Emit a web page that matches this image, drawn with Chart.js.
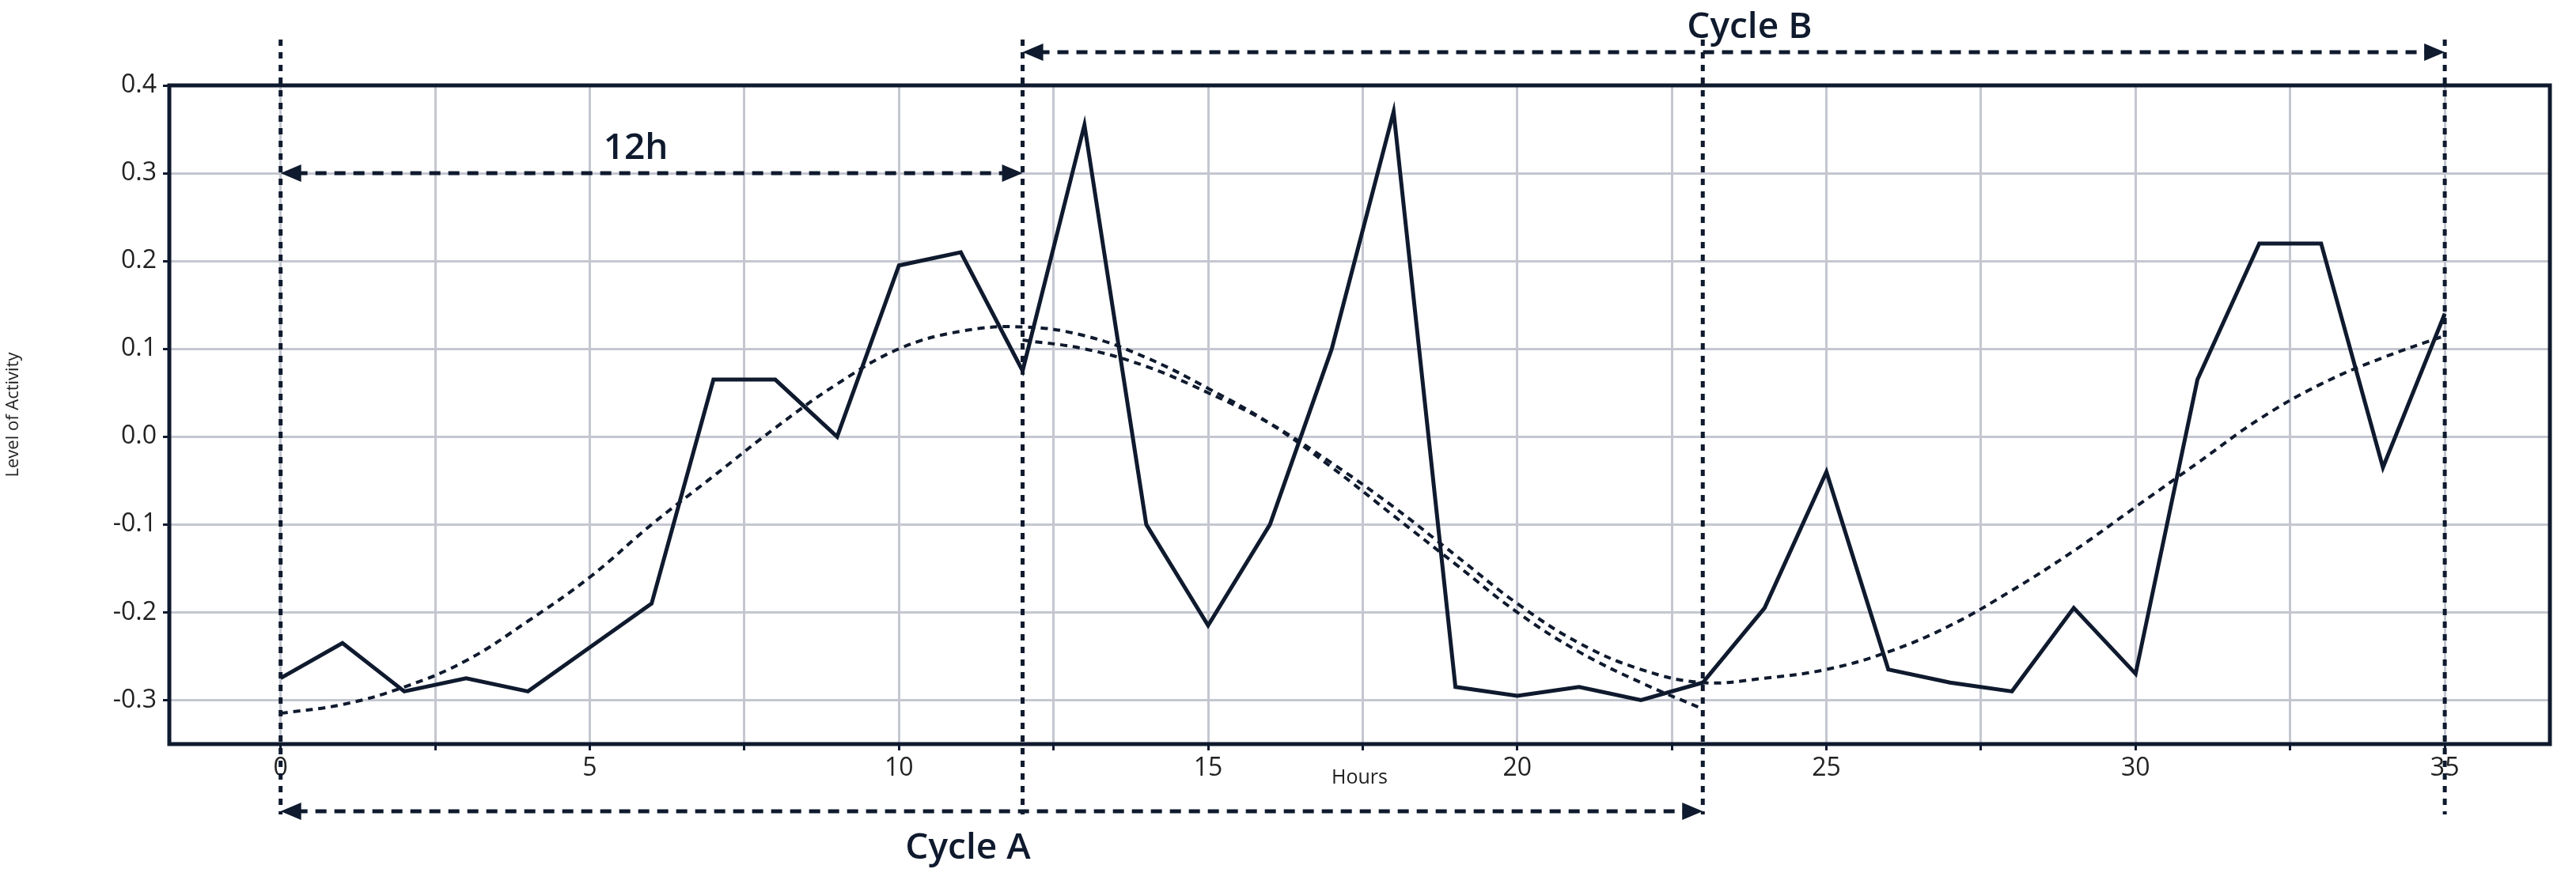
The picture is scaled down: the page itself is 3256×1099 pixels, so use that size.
<!DOCTYPE html>
<html>
<head>
<meta charset="utf-8">
<script src="https://cdn.jsdelivr.net/npm/chart.js@4"></script>
<style>
  html, body { margin: 0; padding: 0; background: #fff; }
  #wrap { width: 3256px; height: 1099px; }
</style>
</head>
<body>
<div id="wrap"><canvas id="activityChart"></canvas></div>
<script>
const hours = [0,1,2,3,4,5,6,7,8,9,10,11,12,13,14,15,16,17,18,19,20,21,22,23,24,25,26,27,28,29,30,31,32,33,34,35];
const activity = [-0.275,-0.235,-0.29,-0.275,-0.29,-0.24,-0.19,0.065,0.065,0.0,0.195,0.21,0.075,0.355,-0.1,-0.215,-0.1,0.1,0.37,-0.285,-0.295,-0.285,-0.3,-0.28,-0.195,-0.04,-0.265,-0.28,-0.29,-0.195,-0.27,0.065,0.22,0.22,-0.035,0.14];
// fitted cosine curves
const fitAHours = hours.slice(0, 24);
const fitA = [-0.315,-0.305,-0.285,-0.255,-0.21,-0.16,-0.10,-0.045,0.01,0.06,0.10,0.12,0.125,0.115,0.09,0.055,0.015,-0.035,-0.09,-0.145,-0.2,-0.245,-0.28,-0.31];
const fitBHours = hours.slice(12);
const fitB = [0.11,0.10,0.08,0.05,0.015,-0.03,-0.08,-0.135,-0.19,-0.235,-0.265,-0.28,-0.275,-0.265,-0.245,-0.215,-0.175,-0.13,-0.08,-0.03,0.02,0.06,0.09,0.115];
const markerHours = [0, 12, 23, 35];

const ink = '#0f1a2e';
const font = '"Open Sans", "Noto Sans", sans-serif';

function toPoints(xs, ys) { return xs.map((x, i) => ({ x: x, y: ys[i] })); }

function arrowHead(c, x, y, dir) {
  c.beginPath();
  c.moveTo(x, y);
  c.lineTo(x - dir * 26, y - 11);
  c.lineTo(x - dir * 26, y + 11);
  c.closePath();
  c.fill();
}

function dashedArrow(c, x1, x2, y) {
  c.save();
  c.setLineDash([14, 10]);
  c.lineWidth = 5;
  c.beginPath();
  c.moveTo(x1 + 20, y);
  c.lineTo(x2 - 20, y);
  c.stroke();
  c.restore();
  arrowHead(c, x2, y, 1);
  arrowHead(c, x1, y, -1);
}

const annotations = {
  id: 'annotations',
  afterDatasetsDraw(chart) {
    const c = chart.ctx, xs = chart.scales.x, ys = chart.scales.y, a = chart.chartArea;
    c.save();
    c.strokeStyle = ink; c.fillStyle = ink;
    // frame
    c.lineWidth = 5;
    c.strokeRect(a.left, a.top, a.right - a.left, a.bottom - a.top);
    // vertical markers
    c.setLineDash([8, 8]);
    c.lineWidth = 5;
    markerHours.forEach(h => {
      const px = xs.getPixelForValue(h);
      c.beginPath();
      c.moveTo(px, 50);
      c.lineTo(px, 1030);
      c.stroke();
    });
    c.setLineDash([]);
    const x0 = xs.getPixelForValue(0), x12 = xs.getPixelForValue(12);
    const x23 = xs.getPixelForValue(23), x35 = xs.getPixelForValue(35);
    dashedArrow(c, x0, x12, ys.getPixelForValue(0.3));
    dashedArrow(c, x12, x35, 66);
    dashedArrow(c, x0, x23, 1026);
    c.textAlign = 'center';
    c.textBaseline = 'alphabetic';
    c.font = '600 46px ' + font;
    c.fillText('12h', (x0 + x12) / 2 - 20, ys.getPixelForValue(0.3) - 18);
    c.fillText('Cycle B', (x12 + x35) / 2 + 20, 48);
    c.fillText('Cycle A', (x0 + x23) / 2 - 30, 1086);
    c.restore();
  }
};

new Chart(document.getElementById('activityChart'), {
  type: 'line',
  data: {
    datasets: [
      { data: toPoints(hours, activity), borderColor: ink, borderWidth: 5, pointRadius: 0, tension: 0 },
      { data: toPoints(fitAHours, fitA), borderColor: ink, borderWidth: 4, borderDash: [9, 7], pointRadius: 0, tension: 0.4 },
      { data: toPoints(fitBHours, fitB), borderColor: ink, borderWidth: 4, borderDash: [9, 7], pointRadius: 0, tension: 0.4 }
    ]
  },
  options: {
    responsive: true,
    maintainAspectRatio: false,
    animation: false,
    layout: { padding: { top: 108, right: 33, bottom: 100, left: 0 } },
    plugins: { legend: { display: false }, tooltip: { enabled: false } },
    scales: {
      x: {
        type: 'linear', min: -1.8, max: 36.7,
        afterBuildTicks(s) { s.ticks = []; for (let v = 0; v <= 35; v += 2.5) s.ticks.push({ value: v }); },
        afterFit(s) { s.height = 58; },
        grid: { color: '#c4c7d0', lineWidth: 3, drawTicks: true, tickLength: 8, tickColor: ink },
        border: { display: false },
        ticks: {
          color: '#222', font: { family: font, size: 32 }, padding: 4, maxRotation: 0, autoSkip: false,
          callback: v => (v % 5 === 0 ? v : '')
        },
        title: { display: true, text: 'Hours', color: '#222', font: { family: font, size: 25 }, padding: 0 }
      },
      y: {
        min: -0.35, max: 0.4,
        afterBuildTicks(s) { s.ticks = []; for (let i = -3; i <= 4; i++) s.ticks.push({ value: i / 10 }); },
        afterFit(s) { s.width = 214; },
        grid: { color: '#c4c7d0', lineWidth: 3, tickLength: 8, tickColor: ink },
        border: { display: false },
        ticks: { color: '#222', font: { family: font, size: 32 }, padding: 8, callback: v => v.toFixed(1) },
        title: { display: true, text: 'Level of Activity', color: '#222', font: { family: font, size: 22 } }
      }
    }
  },
  plugins: [annotations]
});
</script>
</body>
</html>
